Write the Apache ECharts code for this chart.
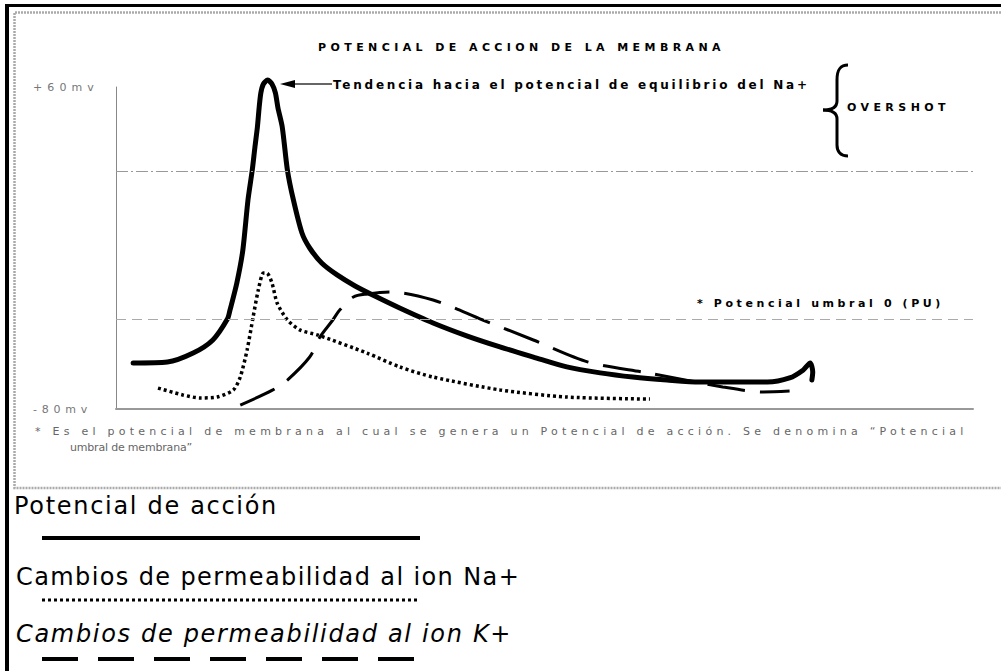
<!DOCTYPE html>
<html><head><meta charset="utf-8">
<script src="https://cdn.jsdelivr.net/npm/echarts@6/dist/echarts.min.js"></script>
<style>html,body{margin:0;padding:0;background:#fff;overflow:hidden}#c{width:1001px;height:671px}</style>
</head><body><div id="c"></div>
<script>
// ---------- data (time in arbitrary units, potential in mV) ----------
const chartTitle = 'POTENCIAL DE ACCION DE LA MEMBRANA';
const yTickLabels = { '60': '+60mv', '-80': '-80mv' };
const refLevels = [23.5, -41];            // upper reference line, threshold (PU)

const apTime = [2.0, 6.0, 9.0, 11.3, 13.0, 13.3, 14.1, 14.8, 15.4, 15.9, 16.2, 16.5, 16.7, 16.9, 17.2, 17.7, 18.2, 18.6, 18.9, 19.4, 20.0, 20.7, 21.7, 22.6, 24.0, 25.8, 27.9, 30.2, 33.1, 37.0, 41.0, 44.8, 48.7, 52.6, 56.5, 60.3, 64.3, 68.1, 76.0, 78.6, 80.2, 81.0, 81.3, 81.2];
const apMv   = [-60.0, -59.6, -55.7, -50.0, -40.9, -37.0, -25.2, -10.9, 10.9, 23.9, 33.5, 42.6, 50.9, 57.4, 61.3, 63.0, 61.3, 57.4, 50.9, 42.6, 23.9, 10.9, -3.5, -10.0, -16.5, -21.7, -26.5, -30.9, -36.1, -42.6, -48.3, -53.0, -57.4, -61.7, -64.3, -66.1, -67.4, -68.3, -68.3, -66.5, -63.0, -60.0, -63.9, -67.4];

const naTime = [4.9, 7.8, 9.8, 11.8, 13.7, 14.5, 15.3, 16.0, 16.6, 17.2, 17.6, 18.2, 18.8, 20.0, 21.5, 23.5, 29.3, 33.1, 37.0, 44.8, 52.6, 62.3];
const naMv   = [-70.9, -73.9, -75.2, -74.8, -71.7, -66.1, -54.3, -40.0, -28.3, -20.9, -20.9, -25.2, -33.9, -41.3, -45.7, -47.8, -55.7, -61.7, -66.1, -71.7, -74.8, -75.7];

const kTime = [14.5, 18.3, 20.0, 22.6, 23.8, 25.3, 26.1, 27.7, 29.3, 32.0, 37.0, 42.8, 48.7, 55.1, 62.0, 70.8, 75.5, 78.6];
const kMv   = [-78.3, -71.7, -67.4, -57.4, -48.7, -41.3, -37.0, -31.3, -30.0, -29.1, -32.6, -41.3, -50.0, -59.6, -64.3, -70.4, -72.6, -72.2];

const seriesNames = ['Potencial de acción', 'Cambios de permeabilidad al ion Na+', 'Cambios de permeabilidad al ion K+'];
const peakNote = 'Tendencia hacia el potencial de equilibrio del Na+';
const overshootNote = 'OVERSHOT';
const thresholdNote = '* Potencial umbral 0 (PU)';
const footNote1 = '* Es el potencial de membrana al cual se genera un Potencial de acción. Se denomina \u201cPotencial';
const footNote2 = 'umbral de membrana\u201d';

// ---------- layout (target widths for letter-spaced texts) ----------
const spacedWidths = {};
spacedWidths[chartTitle] = 407;
spacedWidths[peakNote] = 477;
spacedWidths[overshootNote] = 103;
spacedWidths[thresholdNote] = 247;
spacedWidths[footNote1] = 933;
spacedWidths[footNote2] = 122;
spacedWidths['+60mv'] = 66;
spacedWidths['-80mv'] = 59;
spacedWidths[seriesNames[0]] = 264;
spacedWidths[seriesNames[1]] = 504;
spacedWidths[seriesNames[2]] = 496;

const pair = (xs, ys) => xs.map((x, i) => [x, ys[i]]);
const smallFont = 'DejaVu Sans';

function bez(x1, y1, cpx1, cpy1, cpx2, cpy2, x2, y2) {
  return { type: 'bezierCurve', shape: { x1, y1, cpx1, cpy1, cpx2, cpy2, x2, y2 }, style: { fill: null, stroke: '#000', lineWidth: 3 }, silent: true };
}

const chart = echarts.init(document.getElementById('c'), null, { renderer: 'svg' });
const option = {
  animation: false,
  backgroundColor: '#fff',
  title: {
    text: chartTitle, left: 313, top: 37,
    textStyle: { fontFamily: smallFont, fontSize: 11, fontWeight: 'bold', color: '#000' }
  },
  grid: { left: 116, right: 28, top: 87, bottom: 262 },
  xAxis: {
    type: 'value', min: 0, max: 100,
    axisLine: { show: true, onZero: false, lineStyle: { color: '#999', width: 2 } },
    axisTick: { show: false }, axisLabel: { show: false }, splitLine: { show: false }
  },
  yAxis: {
    type: 'value', min: -80, max: 60, interval: 140,
    axisLine: { show: true, lineStyle: { color: '#888', width: 1 } },
    axisTick: { show: false }, splitLine: { show: false },
    axisLabel: {
      show: true, margin: 83, align: 'left', color: '#777',
      fontFamily: smallFont, fontSize: 11,
      formatter: v => yTickLabels[String(v)] || ''
    }
  },
  series: [
    {
      name: seriesNames[0], type: 'line', data: pair(apTime, apMv), smooth: 0.25, clip: false,
      showSymbol: false, lineStyle: { color: '#000', width: 5, join: 'round', cap: 'round' },
      markLine: {
        silent: true, symbol: 'none', label: { show: false },
        data: [
          { yAxis: refLevels[0], lineStyle: { color: '#999', width: 1, type: [12, 3, 2, 3] } },
          { yAxis: refLevels[1], lineStyle: { color: '#aaa', width: 1, type: [10, 6] } }
        ]
      }
    },
    {
      name: seriesNames[1], type: 'line', data: pair(naTime, naMv), smooth: 0.25, clip: false,
      showSymbol: false, lineStyle: { color: '#000', width: 3.5, type: [3, 3], cap: 'butt' }
    },
    {
      name: seriesNames[2], type: 'line', data: pair(kTime, kMv), smooth: 0.3, clip: false,
      showSymbol: false, lineStyle: { color: '#000', width: 3, type: [38, 15], cap: 'butt' }
    }
  ],
  graphic: [
    // frame
    { type: 'rect', shape: { x: 5, y: 4, width: 996, height: 3 }, style: { fill: '#000' }, silent: true },
    { type: 'rect', shape: { x: 5, y: 4, width: 4, height: 667 }, style: { fill: '#000' }, silent: true },
    { type: 'polyline', shape: { points: [[1001, 12.5], [14.5, 12.5], [14.5, 488], [1001, 488]] }, style: { fill: null, stroke: '#aaa', lineWidth: 2.5, lineDash: [2, 1] }, silent: true },
    // peak arrow
    { type: 'line', shape: { x1: 292, y1: 84, x2: 332, y2: 84 }, style: { stroke: '#333', lineWidth: 1.5 } },
    { type: 'polygon', shape: { points: [[280, 84], [295, 80], [295, 88]] }, style: { fill: '#000' } },
    { type: 'text', x: 333, y: 85, style: { text: peakNote, font: 'bold 12px "DejaVu Sans"', fill: '#000', textVerticalAlign: 'middle' } },
    // overshoot brace
    bez(848, 65, 840, 65, 837, 70, 837, 80),
    { type: 'line', shape: { x1: 837, y1: 80, x2: 837, y2: 101 }, style: { stroke: '#000', lineWidth: 3 } },
    bez(837, 101, 837, 107, 832, 110, 823, 110),
    bez(823, 110, 832, 110, 837, 113, 837, 119),
    { type: 'line', shape: { x1: 837, y1: 119, x2: 837, y2: 145 }, style: { stroke: '#000', lineWidth: 3 } },
    bez(837, 145, 837, 151, 840, 156, 848, 156),
    { type: 'text', x: 847, y: 107, style: { text: overshootNote, font: 'bold 11px "DejaVu Sans"', fill: '#000', textVerticalAlign: 'middle' } },
    { type: 'text', x: 697, y: 303, style: { text: thresholdNote, font: 'bold 11px "DejaVu Sans"', fill: '#000', textVerticalAlign: 'middle' } },
    // footnote
    { type: 'text', x: 35, y: 431, style: { text: footNote1, font: '11px "DejaVu Sans"', fill: '#666', textVerticalAlign: 'middle' } },
    { type: 'text', x: 70, y: 447, style: { text: footNote2, font: '11px "DejaVu Sans"', fill: '#666', textVerticalAlign: 'middle' } },
    // legend block
    { type: 'text', x: 14, y: 506, style: { text: seriesNames[0], font: '24px "DejaVu Sans"', fill: '#000', textVerticalAlign: 'middle' } },
    { type: 'line', shape: { x1: 42, y1: 538, x2: 420, y2: 538 }, style: { stroke: '#000', lineWidth: 4 } },
    { type: 'text', x: 16, y: 577, style: { text: seriesNames[1], font: '24px "DejaVu Sans"', fill: '#000', textVerticalAlign: 'middle' } },
    { type: 'line', shape: { x1: 42, y1: 600, x2: 418, y2: 600 }, style: { stroke: '#000', lineWidth: 3, lineDash: [3, 3] } },
    { type: 'text', x: 16, y: 634, style: { text: seriesNames[2], font: 'italic 24px "DejaVu Sans"', fill: '#000', textVerticalAlign: 'middle' } },
    { type: 'line', shape: { x1: 42, y1: 659, x2: 418, y2: 659 }, style: { stroke: '#000', lineWidth: 4, lineDash: [36, 20] } }
  ]
};
chart.setOption(option);

function applySpacing() {
  document.querySelectorAll('#c svg text').forEach(el => {
    const s = el.textContent;
    const target = spacedWidths[s];
    if (!target) return;
    el.setAttribute('letter-spacing', '0');
    const w = el.getComputedTextLength();
    const n = s.length;
    el.setAttribute('letter-spacing', ((target - w) / n).toFixed(2));
  });
}
chart.on('finished', applySpacing);
applySpacing();
setTimeout(applySpacing, 30);
setTimeout(applySpacing, 200);
</script></body></html>
